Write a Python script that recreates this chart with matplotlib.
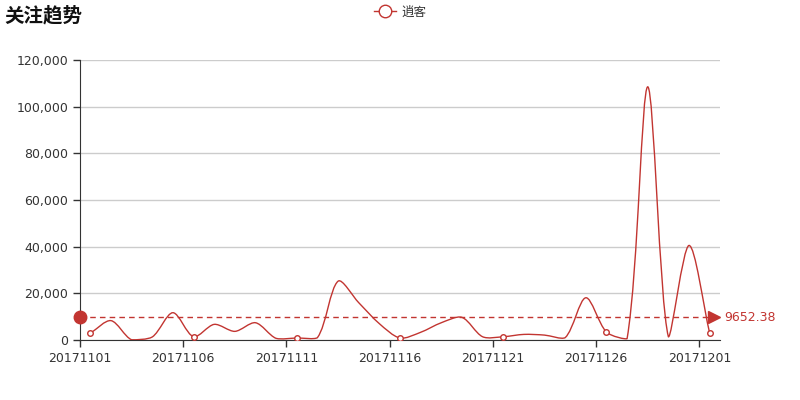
import numpy as np
import matplotlib
matplotlib.use("Agg")
import matplotlib.pyplot as plt
from matplotlib.path import Path
from matplotlib.patches import PathPatch
from matplotlib.lines import Line2D
from matplotlib.ticker import FuncFormatter

plt.rcParams['font.family'] = ['DejaVu Sans', 'Noto Sans CJK SC']

# data
dates = ["201711%02d" % d for d in range(1, 31)] + ["20171201"]
follows = [2900, 8300, 100, 1300, 11700, 1400, 6700, 3700, 7400, 700,
           850, 1000, 25200, 16000, 7000, 850, 3300, 7400, 9700, 1400,
           1400, 2400, 2100, 1000, 18100, 3400, 600, 108500, 1400, 40524,
           2900]
series_name = "逍客"
title = "关注趋势"

red = "#c23531"

fig = plt.figure(figsize=(8, 4), dpi=100)
ax = fig.add_axes([0.1, 0.15, 0.8, 0.7])

x = np.arange(len(follows)) + 0.5
y = np.array(follows, dtype=float)

# echarts style smooth bezier, computed in pixel space,
# control points kept inside the bounding box of the points
px_per_x = 640 / len(follows)
px_per_y = 280 / 120000
P = np.column_stack([x * px_per_x, y * px_per_y])
lo, hi = P.min(axis=0), P.max(axis=0)
smooth = 0.3
cps = []
for i in range(len(P)):
    prev = P[i - 1] if i > 0 else P[i]
    nxt = P[i + 1] if i < len(P) - 1 else P[i]
    v = (nxt - prev) * smooth
    d0 = np.hypot(*(P[i] - prev))
    d1 = np.hypot(*(P[i] - nxt))
    s = d0 + d1
    if s:
        d0, d1 = d0 / s, d1 / s
    c0 = np.clip(P[i] - v * d0, lo, hi)
    c1 = np.clip(P[i] + v * d1, lo, hi)
    cps.append((c0, c1))
verts = [P[0]]
codes = [Path.MOVETO]
for i in range(len(P) - 1):
    verts += [cps[i][1], cps[i + 1][0], P[i + 1]]
    codes += [Path.CURVE4] * 3
verts = np.array(verts) / [px_per_x, px_per_y]
ax.add_patch(PathPatch(Path(verts, codes), facecolor="none", edgecolor=red, lw=1, zorder=3))

# symbols every 5th point
idx = np.arange(0, len(follows), 5)
ax.plot(x[idx], y[idx], "o", ms=4, mfc="white", mec=red, mew=1, zorder=4)

# average mark line
avg = np.floor(np.mean(y) * 100) / 100
ax.plot([0, len(follows) - 0.3], [avg, avg], ls=(0, (4, 3)), color=red, lw=1, zorder=2, clip_on=False)
ax.plot([0], [avg], "o", ms=9, color=red, clip_on=False, zorder=5)
ax.plot([len(follows) - 0.3], [avg], ">", ms=8, color=red, clip_on=False, zorder=5)
ax.text(len(follows) + 0.2, avg, "%.2f" % avg, color=red, fontsize=9, va="center", ha="left")

ax.set_xlim(0, len(follows))
ax.set_ylim(0, 120000)
ax.set_yticks(np.arange(0, 120001, 20000))
ax.yaxis.set_major_formatter(FuncFormatter(lambda v, p: "{:,}".format(int(v))))
ax.set_xticks(idx)
ax.set_xticklabels([dates[i] for i in idx])
ax.tick_params(axis="both", colors="#333333", labelsize=9, length=5, width=1)
ax.grid(axis="y", color="#cccccc", lw=1)
ax.set_axisbelow(True)
for side in ["top", "right"]:
    ax.spines[side].set_visible(False)
for side in ["left", "bottom"]:
    ax.spines[side].set_color("#333333")

fig.text(0.006, 0.962, title, fontsize=14, fontweight="bold", family=["Noto Sans CJK SC"],
         va="center", ha="left", color="#111111")

handle = Line2D([], [], color=red, lw=1, marker="o", ms=9, mfc="white", mec=red)
fig.legend([handle], [series_name], loc="center", bbox_to_anchor=(0.5, 0.97), frameon=False,
           handlelength=1.8, handletextpad=0.4, labelcolor="#333333",
           prop={"family": ["Noto Sans CJK SC"], "size": 9})

fig.savefig("out.png", dpi=100)
